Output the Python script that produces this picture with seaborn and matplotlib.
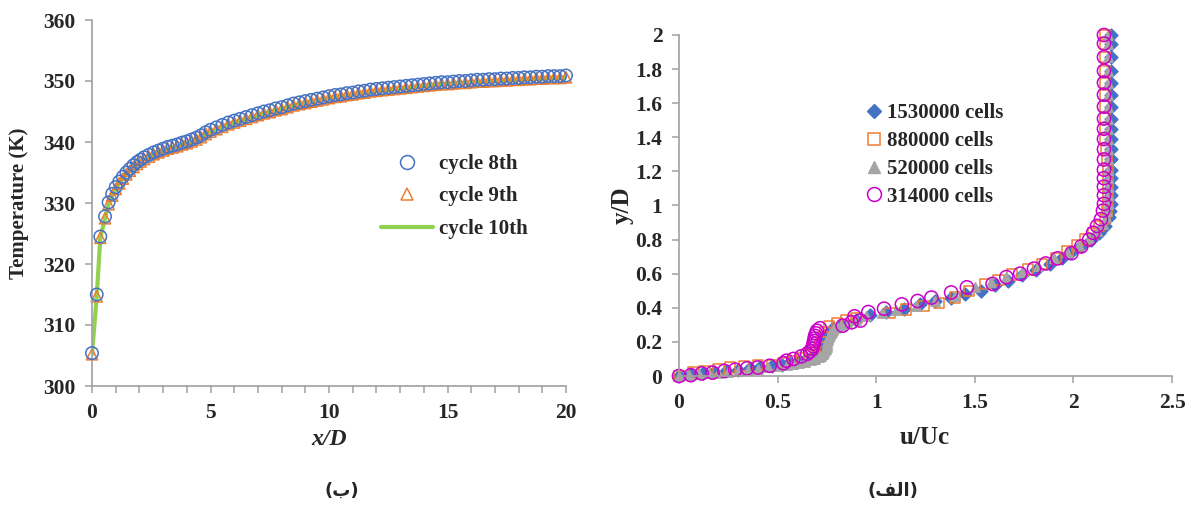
import matplotlib
matplotlib.use("Agg")
import matplotlib.pyplot as plt
from matplotlib.lines import Line2D
from matplotlib.ticker import MultipleLocator, FuncFormatter
import seaborn as sns
import pandas as pd

# ---------------- data: left panel (temperature along x/D) ----------------
x_left = [0, 0.2, 0.35, 0.55, 0.7, 0.85, 1.0, 1.15, 1.3, 1.45, 1.6, 1.75, 1.9,
          2.05, 2.2, 2.4, 2.6, 2.8, 3.0, 3.2, 3.4, 3.6, 3.8, 4.0, 4.2, 4.4, 4.6, 4.8, 5.0,
          5.25, 5.5, 5.75, 6.0, 6.25, 6.5, 6.75, 7.0, 7.25, 7.5, 7.75, 8.0, 8.25, 8.5,
          8.75, 9.0, 9.25, 9.5, 9.75, 10.0, 10.25, 10.5, 10.75, 11.0, 11.25, 11.5, 11.75,
          12.0, 12.25, 12.5, 12.75, 13.0, 13.25, 13.5, 13.75, 14.0, 14.25, 14.5, 14.75,
          15.0, 15.25, 15.5, 15.75, 16.0, 16.25, 16.5, 16.75, 17.0, 17.25, 17.5, 17.75,
          18.0, 18.25, 18.5, 18.75, 19.0, 19.25, 19.5, 19.75, 20.0]
cycle8 = [305.4, 315.0, 324.5, 327.8, 330.1, 331.5, 332.6, 333.5, 334.3, 335.0,
          335.6, 336.2, 336.7, 337.1, 337.5, 337.9, 338.3, 338.6, 338.9, 339.2,
          339.4, 339.6, 339.9, 340.1, 340.4, 340.7, 341.1, 341.6, 342.0, 342.4,
          342.8, 343.2, 343.5, 343.8, 344.1, 344.4, 344.7, 345.0, 345.2, 345.5,
          345.7, 346.0, 346.3, 346.5, 346.7, 346.9, 347.1, 347.3, 347.5, 347.7,
          347.8, 348.0, 348.1, 348.3, 348.4, 348.6, 348.7, 348.8, 348.9, 349.0,
          349.1, 349.2, 349.3, 349.4, 349.5, 349.6, 349.7, 349.8, 349.8, 349.9,
          350.0, 350.0, 350.1, 350.2, 350.2, 350.3, 350.3, 350.4, 350.4, 350.5,
          350.5, 350.6, 350.6, 350.7, 350.7, 350.8, 350.8, 350.8, 350.9]
cycle9 = [305.2, 314.7, 324.3, 327.5, 329.8, 331.2, 332.3, 333.2, 334.0, 334.7,
          335.3, 335.9, 336.4, 336.8, 337.2, 337.6, 338.0, 338.3, 338.6, 338.9,
          339.1, 339.3, 339.6, 339.8, 340.1, 340.4, 340.8, 341.3, 341.7, 342.1,
          342.5, 342.9, 343.2, 343.5, 343.8, 344.1, 344.4, 344.7, 344.9, 345.2,
          345.4, 345.7, 346.0, 346.2, 346.4, 346.6, 346.8, 347.0, 347.2, 347.4,
          347.5, 347.7, 347.8, 348.0, 348.1, 348.3, 348.4, 348.5, 348.6, 348.7,
          348.8, 348.9, 349.0, 349.1, 349.2, 349.3, 349.4, 349.5, 349.5, 349.6,
          349.7, 349.7, 349.8, 349.9, 349.9, 350.0, 350.0, 350.1, 350.1, 350.2,
          350.2, 350.3, 350.3, 350.4, 350.4, 350.5, 350.5, 350.5, 350.6]
cycle10 = list(cycle9)
left_labels = ["cycle 8th", "cycle 9th", "cycle 10th"]

# ---------------- data: right panel (velocity profiles) ----------------
u_1530 = [0, 0.06, 0.12, 0.18, 0.24, 0.30, 0.36, 0.41, 0.47, 0.52,
          0.56, 0.60, 0.64, 0.67, 0.70, 0.72, 0.73, 0.735, 0.74, 0.745,
          0.75, 0.76, 0.78, 0.82, 0.90, 0.97, 1.05, 1.14, 1.22, 1.30,
          1.38, 1.45, 1.53, 1.60, 1.67, 1.74, 1.81, 1.88, 1.94, 1.99,
          2.04, 2.09, 2.13, 2.16, 2.18, 2.185,
          2.19, 2.19, 2.19, 2.19, 2.19, 2.19, 2.19, 2.19, 2.19, 2.19,
          2.19, 2.19, 2.19, 2.19, 2.19, 2.19, 2.19]
y_1530 = [0, 0.01, 0.015, 0.022, 0.03, 0.038, 0.045, 0.05, 0.058, 0.066,
          0.075, 0.085, 0.095, 0.105, 0.12, 0.14, 0.16, 0.18, 0.20, 0.22,
          0.24, 0.26, 0.28, 0.30, 0.33, 0.36, 0.375, 0.395, 0.42, 0.44,
          0.46, 0.48, 0.50, 0.535, 0.56, 0.59, 0.62, 0.655, 0.69, 0.725,
          0.76, 0.80, 0.84, 0.88, 0.93, 0.97,
          1.01, 1.06, 1.11, 1.16, 1.21, 1.27, 1.33, 1.39, 1.45, 1.51,
          1.58, 1.65, 1.72, 1.79, 1.87, 1.95, 2.0]

u_880 = [0, 0.07, 0.13, 0.20, 0.26, 0.33, 0.40, 0.47, 0.53, 0.58,
         0.62, 0.66, 0.69, 0.71, 0.72, 0.73, 0.74, 0.76, 0.80, 0.85,
         0.90, 1.07, 1.15, 1.24, 1.32, 1.40, 1.47, 1.55, 1.62, 1.69,
         1.77, 1.84, 1.91, 1.97, 2.02, 2.06, 2.10, 2.13, 2.16, 2.17,
         2.175, 2.175, 2.175, 2.175, 2.175, 2.17, 2.165,
         2.16, 2.16, 2.16, 2.16, 2.16, 2.16, 2.16, 2.16, 2.16, 2.16]
y_880 = [0, 0.02, 0.03, 0.04, 0.05, 0.058, 0.062, 0.065, 0.075, 0.09,
         0.105, 0.12, 0.14, 0.17, 0.20, 0.23, 0.26, 0.29, 0.31, 0.325,
         0.34, 0.37, 0.39, 0.41, 0.43, 0.46, 0.50, 0.54, 0.565, 0.595,
         0.625, 0.655, 0.69, 0.73, 0.765, 0.80, 0.84, 0.88, 0.92, 0.97,
         1.01, 1.06, 1.11, 1.16, 1.21, 1.27, 1.33,
         1.39, 1.45, 1.51, 1.58, 1.65, 1.72, 1.79, 1.87, 1.95, 2.0]

u_520 = [0, 0.05, 0.10, 0.15, 0.20, 0.25, 0.30, 0.35, 0.40, 0.45,
         0.50, 0.55, 0.58, 0.61, 0.64, 0.67, 0.69, 0.71, 0.72, 0.73,
         0.735, 0.74, 0.745, 0.75, 0.75, 0.75, 0.752, 0.755, 0.757, 0.76,
         0.765, 0.77, 0.775, 0.78, 0.79, 0.80, 0.82, 0.85, 0.90, 0.95,
         1.03, 1.10, 1.20, 1.30, 1.40, 1.50, 1.58, 1.66, 1.74, 1.82,
         1.90, 1.97, 2.03, 2.08, 2.12, 2.15, 2.165, 2.17,
         2.175, 2.175, 2.175, 2.175, 2.175, 2.175, 2.175, 2.175, 2.175,
         2.175, 2.175, 2.175, 2.175, 2.175, 2.175, 2.175, 2.175]
y_520 = [0, 0.005, 0.01, 0.015, 0.02, 0.025, 0.03, 0.037, 0.043, 0.05,
         0.058, 0.066, 0.072, 0.078, 0.085, 0.093, 0.10, 0.11, 0.12, 0.13,
         0.14, 0.15, 0.16, 0.17, 0.18, 0.19, 0.20, 0.21, 0.22, 0.23,
         0.24, 0.25, 0.26, 0.27, 0.28, 0.29, 0.30, 0.31, 0.33, 0.35,
         0.37, 0.385, 0.41, 0.44, 0.47, 0.52, 0.55, 0.58, 0.61, 0.645,
         0.69, 0.73, 0.77, 0.81, 0.85, 0.89, 0.93, 0.97,
         1.01, 1.06, 1.11, 1.16, 1.21, 1.27, 1.33, 1.39, 1.45,
         1.51, 1.58, 1.65, 1.72, 1.79, 1.87, 1.95, 2.0]

u_314 = [0, 0.06, 0.115, 0.17, 0.23, 0.285, 0.345, 0.40, 0.46, 0.53,
         0.545, 0.58, 0.62, 0.65, 0.665, 0.675, 0.68, 0.682, 0.685, 0.688,
         0.69, 0.695, 0.70, 0.715, 0.83, 0.875, 0.89, 0.92, 0.96, 1.04,
         1.13, 1.21, 1.28, 1.38, 1.46, 1.59, 1.66, 1.73, 1.80, 1.86,
         1.92, 1.99, 2.04, 2.08, 2.10, 2.12, 2.14, 2.15,
         2.155, 2.155, 2.155, 2.155, 2.155, 2.155, 2.155, 2.155, 2.155,
         2.155, 2.155, 2.155, 2.155, 2.155, 2.155, 2.155, 2.155]
y_314 = [0, 0.005, 0.015, 0.02, 0.03, 0.037, 0.045, 0.05, 0.06, 0.075,
         0.09, 0.10, 0.115, 0.13, 0.145, 0.16, 0.175, 0.19, 0.205, 0.22,
         0.235, 0.25, 0.265, 0.28, 0.295, 0.315, 0.35, 0.325, 0.375, 0.395,
         0.42, 0.44, 0.46, 0.49, 0.52, 0.54, 0.58, 0.60, 0.63, 0.66,
         0.69, 0.72, 0.76, 0.80, 0.84, 0.88, 0.92, 0.97,
         1.01, 1.06, 1.11, 1.16, 1.21, 1.27, 1.33, 1.39, 1.45,
         1.51, 1.58, 1.65, 1.72, 1.79, 1.87, 1.95, 2.0]
right_labels = ["1530000 cells", "880000 cells", "520000 cells", "314000 cells"]

# ---------------- styling ----------------
sns.set_theme(style="white")
plt.rcParams["font.family"] = ["Liberation Serif", "DejaVu Sans"]
plt.rcParams["font.weight"] = "bold"

BLUE, ORANGE, GRAY, MAGENTA, GREEN = "#4472C4", "#ED7D31", "#A5A5A5", "#CC00CC", "#92D050"
AXCOL = "#A0A0A0"
W, H = 1194, 513
fig = plt.figure(figsize=(W / 100, H / 100), dpi=100)


def frac(x0, x1, ytop, ybot):
    return [x0 / W, 1 - ybot / H, (x1 - x0) / W, (ybot - ytop) / H]


ax1 = fig.add_axes(frac(92, 566, 20, 386))
ax2 = fig.add_axes(frac(679, 1172, 35, 376))

for ax in (ax1, ax2):
    ax.set_facecolor("white")
    for s in ("top", "right"):
        ax.spines[s].set_visible(False)
    for s in ("left", "bottom"):
        ax.spines[s].set_color(AXCOL)
        ax.spines[s].set_linewidth(1.2)
    ax.tick_params(which="both", direction="out", length=5, width=1.1, color=AXCOL,
                   labelsize=15.5, pad=7, left=True, bottom=True)

# ---- left panel ----
df_left = pd.DataFrame({"x": x_left, "c8": cycle8, "c9": cycle9, "c10": cycle10})
sns.lineplot(data=df_left, x="x", y="c10", ax=ax1, color=GREEN, linewidth=3, zorder=1)
sns.scatterplot(data=df_left, x="x", y="c8", ax=ax1, marker="o", s=80,
                facecolor="none", edgecolor=BLUE, linewidth=1.1, zorder=3, clip_on=False)
sns.scatterplot(data=df_left, x="x", y="c9", ax=ax1, marker="^", s=65,
                facecolor="none", edgecolor=ORANGE, linewidth=1.1, zorder=2, clip_on=False)
ax1.set_xlim(0, 20)
ax1.set_ylim(300, 360)
ax1.xaxis.set_major_locator(MultipleLocator(5))
ax1.xaxis.set_minor_locator(MultipleLocator(1))
ax1.yaxis.set_major_locator(MultipleLocator(10))
ax1.set_xlabel("x/D", fontsize=17, fontweight="bold", fontstyle="italic")
ax1.set_ylabel("Temperature (K)", fontsize=15, fontweight="bold")
ax1.xaxis.set_label_coords(0.5, -0.118)
ax1.yaxis.set_label_coords(-0.133, 0.5)

h_left = [
    Line2D([], [], linestyle="none", marker="o", markersize=10, markerfacecolor="none",
           markeredgecolor=BLUE, markeredgewidth=1.1),
    Line2D([], [], linestyle="none", marker="^", markersize=9, markerfacecolor="none",
           markeredgecolor=ORANGE, markeredgewidth=1.1),
    Line2D([], [], color=GREEN, linewidth=3),
]
ax1.legend(h_left, left_labels, loc="upper left", bbox_to_anchor=(381 / W, 1 - 154 / H),
           bbox_transform=fig.transFigure, frameon=False, handlelength=2.5,
           handletextpad=0.3, labelspacing=0.6, borderpad=0, borderaxespad=0,
           prop={"size": 15, "weight": "bold"})

# ---- right panel ----
series = [
    (u_1530, y_1530, "D", BLUE, BLUE, 42),
    (u_880, y_880, "s", "none", ORANGE, 55),
    (u_520, y_520, "^", GRAY, GRAY, 45),
    (u_314, y_314, "o", "none", MAGENTA, 90),
]
for u, y, mk, fc, ec, sz in series:
    df = pd.DataFrame({"u": u, "y": y})
    sns.scatterplot(data=df, x="u", y="y", ax=ax2, marker=mk, s=sz, facecolor=fc,
                    edgecolor=ec, linewidth=1.1, clip_on=False)
ax2.set_xlim(0, 2.5)
ax2.set_ylim(0, 2)
ax2.xaxis.set_major_locator(MultipleLocator(0.5))
ax2.yaxis.set_major_locator(MultipleLocator(0.2))
fmt = FuncFormatter(lambda v, p: f"{v:g}")
ax2.xaxis.set_major_formatter(fmt)
ax2.yaxis.set_major_formatter(fmt)
ax2.set_xlabel("u/Uc", fontsize=18, fontweight="bold")
ax2.set_ylabel("y/D", fontsize=18, fontweight="bold")
ax2.xaxis.set_label_coords(0.499, -0.148)
ax2.yaxis.set_label_coords(-0.092, 0.5)

h_right = [
    Line2D([], [], linestyle="none", marker="D", markersize=7, markerfacecolor=BLUE,
           markeredgecolor=BLUE),
    Line2D([], [], linestyle="none", marker="s", markersize=8, markerfacecolor="none",
           markeredgecolor=ORANGE, markeredgewidth=1.1),
    Line2D([], [], linestyle="none", marker="^", markersize=8, markerfacecolor=GRAY,
           markeredgecolor=GRAY),
    Line2D([], [], linestyle="none", marker="o", markersize=10, markerfacecolor="none",
           markeredgecolor=MAGENTA, markeredgewidth=1.1),
]
ax2.legend(h_right, right_labels, loc="upper left", bbox_to_anchor=(866 / W, 1 - 103 / H),
           bbox_transform=fig.transFigure, frameon=False, handlelength=0.8,
           handletextpad=0.2, labelspacing=0.38, borderpad=0, borderaxespad=0,
           prop={"size": 15, "weight": "bold"})

# ---- captions ----
fig.text(342 / W, 1 - 491 / H, "(\uFE8F)", ha="center", va="center", fontsize=13,
         fontweight="bold", family=["DejaVu Sans"])
fig.text(893 / W, 1 - 491 / H, "(\uFED2\uFEDF\uFE8D)", ha="center", va="center",
         fontsize=13, fontweight="bold", family=["DejaVu Sans"])

fig.savefig("out.png", dpi=100, facecolor="white")
